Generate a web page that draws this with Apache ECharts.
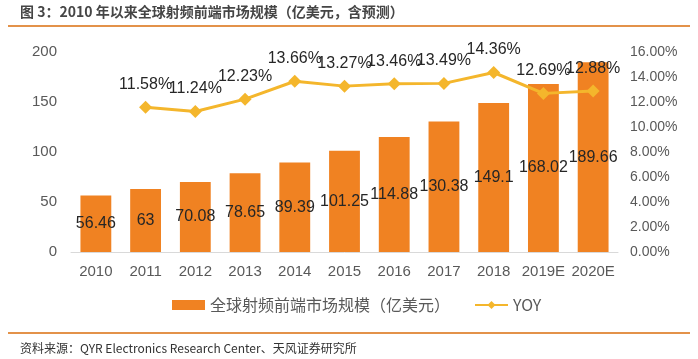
<!DOCTYPE html>
<html>
<head>
<meta charset="utf-8">
<script src="https://cdn.jsdelivr.net/npm/echarts@6/dist/echarts.min.js"></script>
<style>
html,body{margin:0;padding:0;background:#fff;}
#c{width:698px;height:359px;}
</style>
</head>
<body>
<div id="c"></div>
<script>
var categories = ['2010','2011','2012','2013','2014','2015','2016','2017','2018','2019E','2020E'];
var marketSize = [56.46, 63, 70.08, 78.65, 89.39, 101.25, 114.88, 130.38, 149.1, 168.02, 189.66];
var yoy = [null, 11.58, 11.24, 12.23, 13.66, 13.27, 13.46, 13.49, 14.36, 12.69, 12.88];
var barName = '全球射频前端市场规模（亿美元）';
var lineName = 'YOY';
var titleText = '图 3：2010 年以来全球射频前端市场规模（亿美元，含预测）';
var sourceText = '资料来源：QYR Electronics Research Center、天风证券研究所';

var FF = '"Liberation Sans","Noto Sans CJK SC",sans-serif';
var chart = echarts.init(document.getElementById('c'), null, {renderer:'canvas'});
chart.setOption({
  backgroundColor:'#fff',
  animation:false,
  textStyle:{fontFamily:FF},
  graphic:[
    {type:'text', left:20, top:5, style:{text:titleText, font:'bold 14px "Noto Sans CJK SC",sans-serif', fill:'#454545'}},
    {type:'line', shape:{x1:8,y1:26,x2:690,y2:26}, style:{stroke:'#E3924A', lineWidth:2}},
    {type:'line', shape:{x1:8,y1:333,x2:690,y2:333}, style:{stroke:'#E3924A', lineWidth:2}},
    {type:'text', left:20, top:342, style:{text:sourceText, font:'12px "Noto Sans CJK SC",sans-serif', fill:'#333'}}
  ],
  legend:{
    left:167, top:292,
    itemWidth:33, itemHeight:10, itemGap:24,
    textStyle:{fontSize:16, color:'#595959', fontFamily:'"Noto Sans CJK SC","Liberation Sans",sans-serif'},
    data:[{name:barName, icon:'rect'}, {name:lineName}]
  },
  grid:{left:71, right:80, top:52, bottom:107, containLabel:false},
  xAxis:{
    type:'category', data:categories,
    axisLine:{lineStyle:{color:'#D9D9D9', width:1}},
    axisTick:{show:false},
    axisLabel:{color:'#595959', fontSize:15, margin:12, interval:0}
  },
  yAxis:[
    {type:'value', min:0, max:200, interval:50,
     axisLine:{show:false}, axisTick:{show:false}, splitLine:{show:false},
     axisLabel:{color:'#595959', fontSize:15, margin:14}},
    {type:'value', min:0, max:16, interval:2,
     axisLine:{show:false}, axisTick:{show:false}, splitLine:{show:false},
     axisLabel:{color:'#595959', fontSize:14, margin:12, formatter:function(v){return v.toFixed(2)+'%';}}}
  ],
  series:[
    {name:barName, type:'bar', data:marketSize, barWidth:'62%',
     itemStyle:{color:'#F08222'},
     label:{show:true, position:'inside', color:'#262626', fontSize:16}},
    {name:lineName, type:'line', yAxisIndex:1, data:yoy,
     symbol:'diamond', symbolSize:13,
     lineStyle:{color:'#F4B62C', width:3},
     itemStyle:{color:'#F4B62C'},
     label:{show:true, position:'top', distance:8, color:'#262626', fontSize:16,
       formatter:function(p){return p.value.toFixed(2)+'%';}}}
  ]
});
</script>
</body>
</html>
